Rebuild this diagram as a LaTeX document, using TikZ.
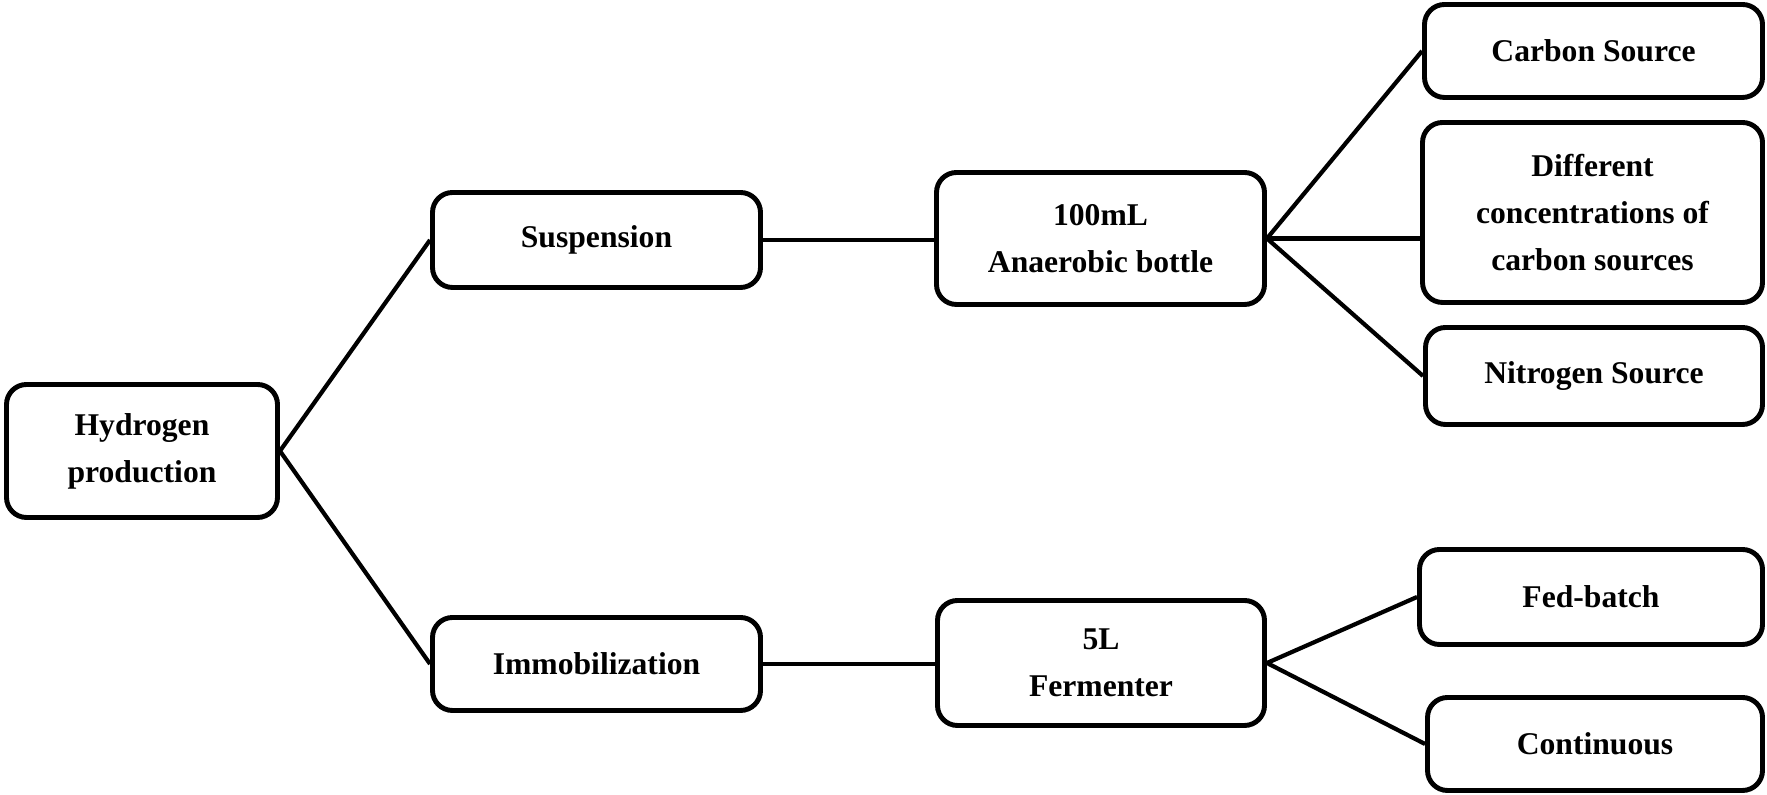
\documentclass[tikz,border=0pt]{standalone}
\usepackage{fontspec}
\setmainfont{Liberation Serif}
\begin{document}
\begin{tikzpicture}[font=\fontsize{9}{13.4}\selectfont\bfseries,
  box/.style={draw, line width=1.4pt, rounded corners=2mm, align=center, inner sep=2pt}]
  \useasboundingbox (0,0) rectangle (17.67,7.95);

  \node[box, minimum width=2.71cm, minimum height=1.33cm] (H2) at (1.42,3.44) {Hydrogen\\production};

  \node[box, minimum width=3.28cm, minimum height=0.95cm] (Susp) at (5.965,5.55) {Suspension};
  \node[box, minimum width=3.28cm, minimum height=0.93cm] (Immob) at (5.965,1.31) {Immobilization};

  \node[box, minimum width=3.28cm, minimum height=1.32cm] (Bottle) at (11.005,5.565) {100mL\\Anaerobic bottle};
  \node[box, minimum width=3.27cm, minimum height=1.25cm] (Ferm) at (11.01,1.32) {5L\\Fermenter};

  \node[box, minimum width=3.38cm, minimum height=0.93cm] (CS) at (15.935,7.44) {Carbon Source};
  \node[box, minimum width=3.40cm, minimum height=1.80cm] (DC) at (15.925,5.825) {Different\\concentrations of\\carbon sources};
  \node[box, minimum width=3.37cm, minimum height=0.97cm] (NS) at (15.94,4.19) {Nitrogen Source};

  \node[box, minimum width=3.43cm, minimum height=0.95cm] (FB) at (15.91,1.98) {Fed-batch};
  \node[box, minimum width=3.35cm, minimum height=0.93cm] (Cont) at (15.95,0.51) {Continuous};

  \draw[line width=1.2pt] (H2.east) -- (Susp.west);
  \draw[line width=1.2pt] (H2.east) -- (Immob.west);
  \draw[line width=1.2pt] (Susp.east) -- (Susp.east -| Bottle.west);
  \draw[line width=1.2pt] (Immob.east) -- (Immob.east -| Ferm.west);

  \draw[line width=1.2pt] (Bottle.east) -- (CS.west);
  \draw[line width=1.2pt] (Bottle.east) -- (Bottle.east -| DC.west);
  \draw[line width=1.2pt] (Bottle.east) -- (NS.west);

  \draw[line width=1.2pt] (Ferm.east) -- (FB.west);
  \draw[line width=1.2pt] (Ferm.east) -- (Cont.west);
\end{tikzpicture}
\end{document}
